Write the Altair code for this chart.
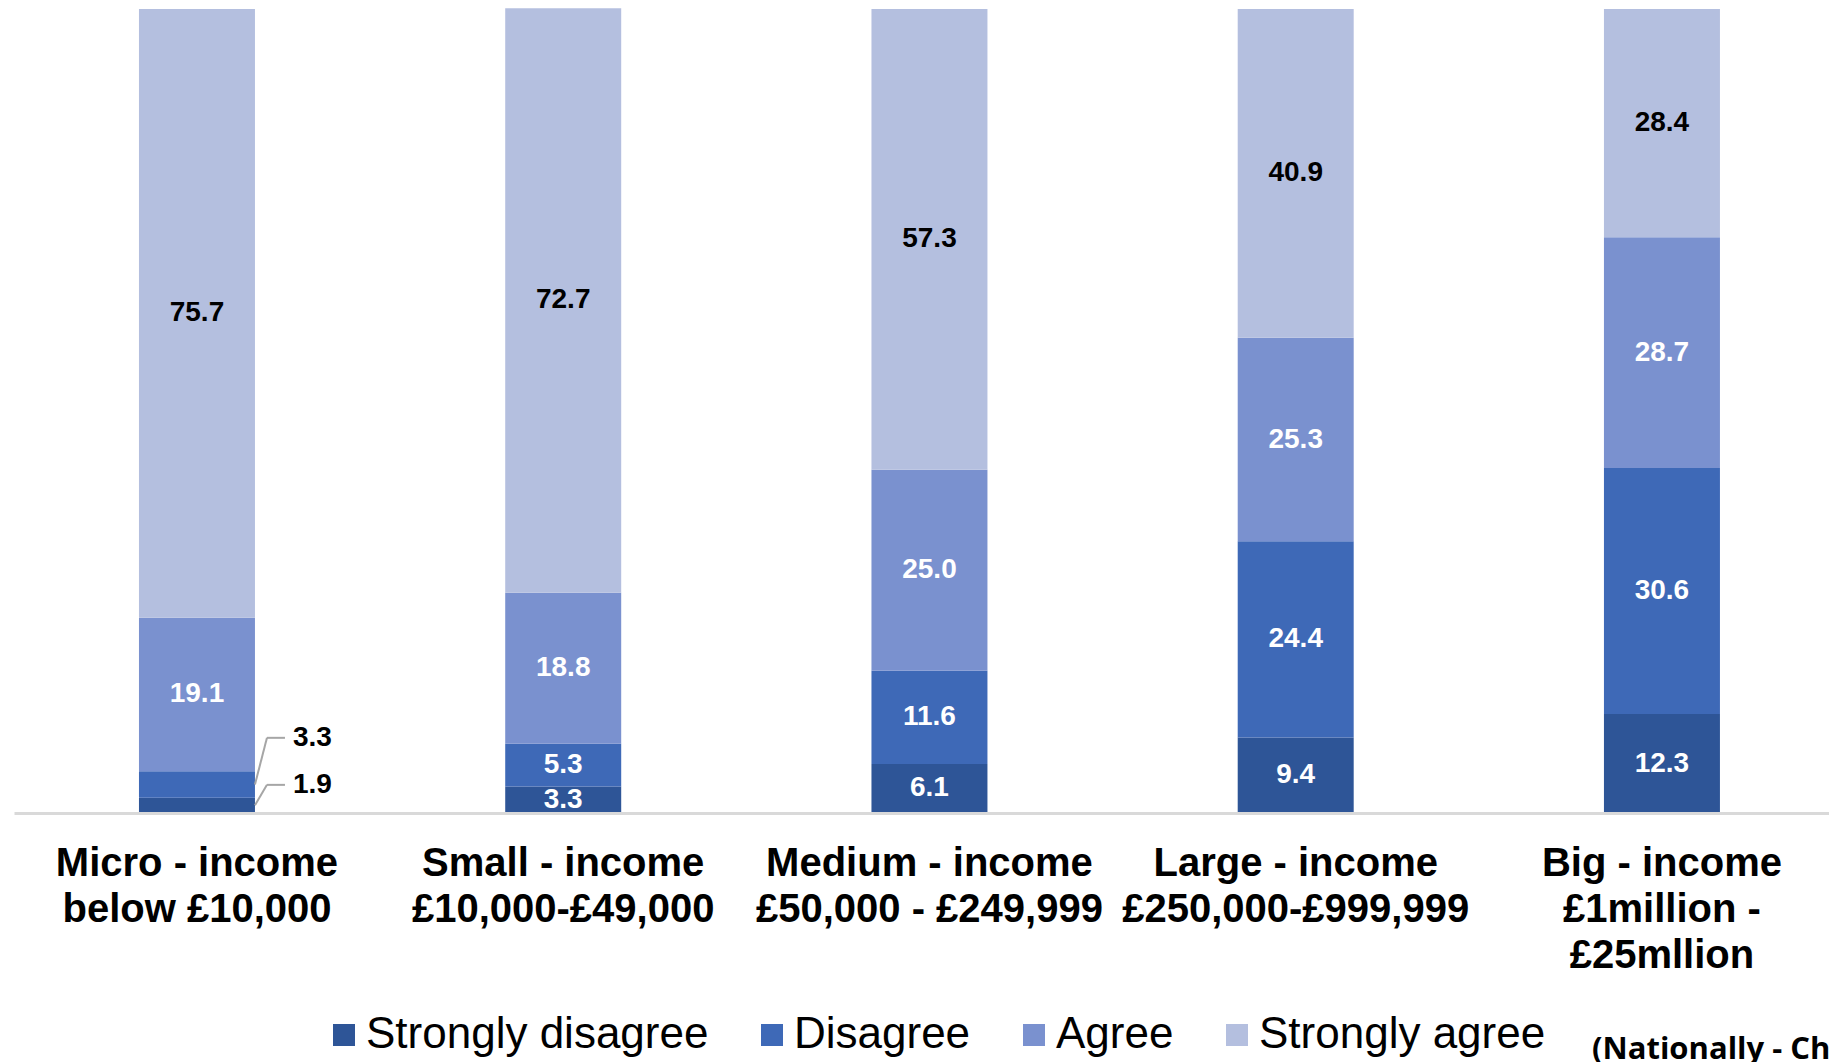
import altair as alt
import pandas as pd

# ---- data ----
categories = [
    "Micro - income|below £10,000",
    "Small - income|£10,000-£49,000",
    "Medium - income|£50,000 - £249,999",
    "Large - income|£250,000-£999,999",
    "Big - income|£1million -|£25mllion",
]
series = ["Strongly disagree", "Disagree", "Agree", "Strongly agree"]
colors = ["#2E5597", "#3E69B7", "#7A91CF", "#B4BFDF"]

strongly_disagree = [1.9, 3.3, 6.1, 9.4, 12.3]
disagree = [3.3, 5.3, 11.6, 24.4, 30.6]
agree = [19.1, 18.8, 25.0, 25.3, 28.7]
strongly_agree = [75.7, 72.7, 57.3, 40.9, 28.4]

note = "(Nationally - Charities)"

values_by_series = [strongly_disagree, disagree, agree, strongly_agree]

rows = []
for i, cat in enumerate(categories):
    cum = 0.0
    for j, s in enumerate(series):
        v = values_by_series[j][i]
        rows.append(dict(cat=cat, series=s, order=j, value=v, mid=cum + v / 2))
        cum += v
df = pd.DataFrame(rows)

is_callout = (df["cat"] == categories[0]) & (df["order"] < 2)
inside = df[~is_callout]
callout = df[is_callout].copy()
# label heights (in % units) of the two leader-line callouts on the first bar
callout["label_y"] = [3.5, 9.35]

FONT = "Liberation Sans"
yscale = alt.Scale(domain=[0, 100], nice=False)

x_enc = alt.X(
    "cat:N",
    sort=categories,
    scale=alt.Scale(paddingInner=0.6833, paddingOuter=0.3195, align=0.534),
    axis=alt.Axis(
        title=None,
        labelExpr="split(datum.label, '|')",
        labelFont=FONT,
        labelFontSize=40,
        labelFontWeight="bold",
        labelColor="#000000",
        labelLineHeight=46,
        labelPadding=30,
        labelLimit=600,
        labelAngle=0,
        labelBaseline="top",
        ticks=False,
        domainColor="#D9D9D9",
        domainWidth=3,
        grid=False,
        zindex=1,
    ),
)

bars = alt.Chart(df).mark_bar().encode(
    x=x_enc,
    y=alt.Y("value:Q", stack="zero", scale=yscale, axis=None),
    color=alt.Color(
        "series:N",
        sort=series,
        scale=alt.Scale(domain=series, range=colors),
        legend=alt.Legend(
            title=None,
            orient="none",
            legendX=308,
            legendY=1004,
            direction="horizontal",
            symbolType="square",
            symbolSize=484,
            symbolStrokeWidth=0,
            labelFont=FONT,
            labelFontSize=44,
            labelColor="#000000",
            labelOffset=0,
            columnPadding=41,
            labelLimit=600,
            padding=0,
        ),
    ),
    order=alt.Order("order:Q"),
)

labels = alt.Chart(inside).mark_text(
    font=FONT, fontSize=28, fontWeight="bold", baseline="middle", align="center"
).encode(
    x=alt.X("cat:N", sort=categories),
    y=alt.Y("mid:Q", scale=yscale, axis=None),
    text=alt.Text("value:Q", format=".1f"),
    color=alt.condition(
        alt.datum.series == "Strongly agree", alt.value("#000000"), alt.value("#FFFFFF")
    ),
)

leader_diag = alt.Chart(callout).mark_rule(
    color="#A6A6A6", strokeWidth=2, xOffset=58, x2Offset=70
).encode(
    x=alt.X("cat:N", sort=categories),
    x2=alt.X2("cat"),
    y=alt.Y("mid:Q", scale=yscale, axis=None),
    y2=alt.Y2("label_y"),
)

leader_h = alt.Chart(callout).mark_rule(
    color="#A6A6A6", strokeWidth=2, xOffset=70, x2Offset=88
).encode(
    x=alt.X("cat:N", sort=categories),
    x2=alt.X2("cat"),
    y=alt.Y("label_y:Q", scale=yscale, axis=None),
)

callout_text = alt.Chart(callout).mark_text(
    font=FONT, fontSize=28, fontWeight="bold", align="left", baseline="middle",
    dx=96, color="#000000",
).encode(
    x=alt.X("cat:N", sort=categories),
    y=alt.Y("label_y:Q", scale=yscale, axis=None),
    text=alt.Text("value:Q", format=".1f"),
)

footer = alt.Chart(pd.DataFrame({"t": [note]})).mark_text(
    font="Open Sans", fontSize=31, fontWeight="bold", align="left",
    baseline="alphabetic", color="#000000",
).encode(
    x=alt.value(1578),
    y=alt.value(1050),
    text="t:N",
)

chart = (
    alt.layer(bars, labels, leader_diag, leader_h, callout_text, footer)
    .properties(
        width=1815,
        height=804,
        autosize=alt.AutoSizeParams(type="none"),
        padding={"left": 6, "top": 1, "right": 0, "bottom": 260},
        background="#FFFFFF",
    )
    .configure_view(stroke=None)
)

chart.save("out.html", embed_options={"renderer": "svg", "actions": False})
